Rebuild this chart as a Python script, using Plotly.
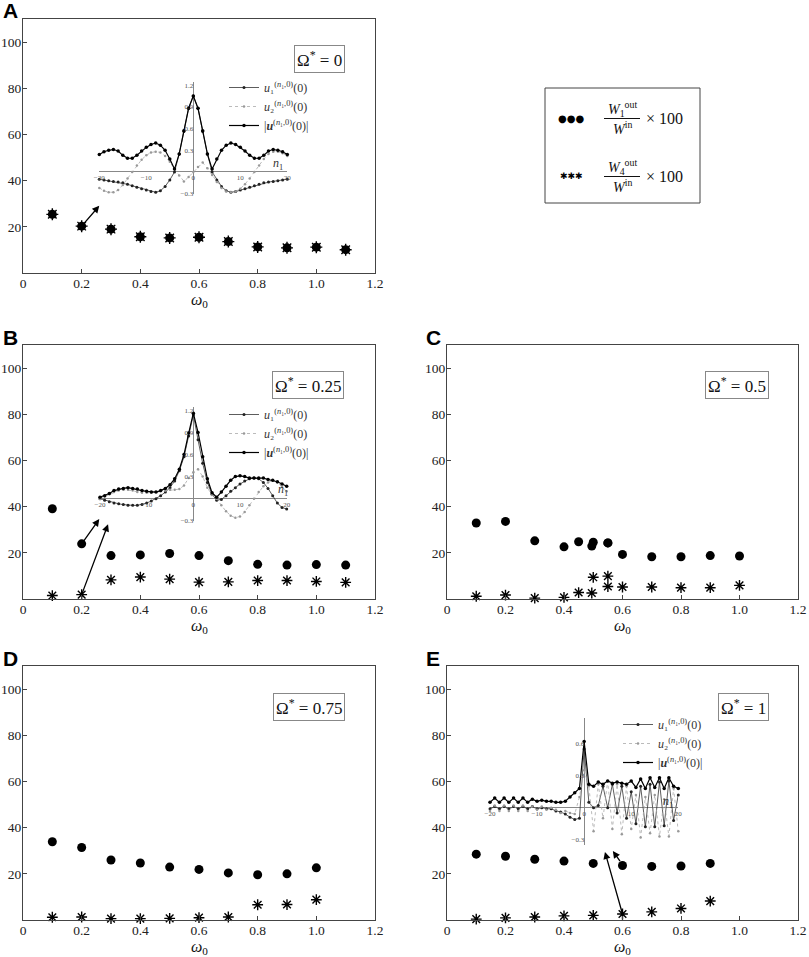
import plotly.graph_objects as go

W, H = 809, 957

# ---- main panels: energy ratio (%) vs omega_0 ----
omega_a = [0.1, 0.2, 0.3, 0.4, 0.5, 0.6, 0.7, 0.8, 0.9, 1.0, 1.1]
w1_a = [25.4, 20.3, 19.0, 15.7, 15.2, 15.5, 13.6, 11.3, 10.9, 11.2, 10.1]
w4_a = [25.4, 20.3, 19.0, 15.7, 15.2, 15.5, 13.6, 11.3, 10.9, 11.2, 10.1]

omega_b = [0.1, 0.2, 0.3, 0.4, 0.5, 0.6, 0.7, 0.8, 0.9, 1.0, 1.1]
w1_b = [39.1, 23.9, 18.8, 19.1, 19.7, 18.8, 16.6, 15.0, 14.7, 14.9, 14.7]
w4_b = [1.5, 1.9, 8.3, 9.5, 8.6, 7.3, 7.4, 8.0, 8.0, 7.6, 7.2]

omega_c = [0.1, 0.2, 0.3, 0.4, 0.45, 0.495, 0.5, 0.55, 0.55, 0.6, 0.7, 0.8, 0.9, 1.0]
w1_c = [32.9, 33.6, 25.2, 22.6, 24.8, 22.9, 24.6, 24.3, 24.3, 19.3, 18.3, 18.3, 18.8, 18.6]
w4_c = [1.2, 1.7, 0.4, 0.7, 2.8, 2.6, 9.4, 9.9, 5.4, 5.2, 5.2, 4.9, 4.9, 5.9]

omega_d = [0.1, 0.2, 0.3, 0.4, 0.5, 0.6, 0.7, 0.8, 0.9, 1.0]
w1_d = [33.9, 31.4, 26.0, 24.7, 22.9, 21.9, 20.4, 19.6, 20.0, 22.6]
w4_d = [1.2, 1.3, 0.6, 0.6, 0.7, 1.0, 1.3, 6.6, 6.7, 8.8]

omega_e = [0.1, 0.2, 0.3, 0.4, 0.5, 0.6, 0.7, 0.8, 0.9]
w1_e = [28.5, 27.6, 26.3, 25.5, 24.5, 23.6, 23.2, 23.4, 24.5]
w4_e = [0.4, 0.9, 1.3, 1.8, 2.0, 2.6, 3.5, 5.0, 8.2]

omega_star = ["0", "0.25", "0.5", "0.75", "1"]
letters = ["A", "B", "C", "D", "E"]

x_ticks = [0, 0.2, 0.4, 0.6, 0.8, 1.0, 1.2]
x_ticktext = ["0", "0.2", "0.4", "0.6", "0.8", "1.0", "1.2"]
y_ticks = [20, 40, 60, 80, 100]

# arrows (tail x, tail y, head x, head y) per panel
arrows_a = [(0.2, 20.3, 0.26, 29.1)]
arrows_b = [(0.2, 23.9, 0.26, 34.6), (0.2, 1.9, 0.29, 32.4)]
arrows_e = [(0.6, 2.6, 0.54, 29.5), (0.595, 24.8, 0.567, 29.9)]

# ---- insets: displacement profile along n1 ----
n1 = list(range(-20, 21))
inset_ticks_x = [-20, -10, 0, 10, 20]
inset_ticktext_x = ["\u221220", "\u221210", "0", "10", "20"]

u1_a = [-0.10, -0.11, -0.12, -0.13, -0.14, -0.15, -0.17, -0.19, -0.21, -0.23, -0.25,
        -0.27, -0.28, -0.26, -0.20, -0.11, 0.00, 0.25, 0.56, 0.88, 1.05,
        0.88, 0.56, 0.25, 0.00, -0.11, -0.20, -0.26, -0.28, -0.27, -0.25,
        -0.23, -0.21, -0.19, -0.17, -0.15, -0.14, -0.13, -0.12, -0.11, -0.10]
u2_a = [-0.22, -0.26, -0.28, -0.28, -0.25, -0.18, -0.09, 0.00, 0.09, 0.17, 0.23,
        0.27, 0.28, 0.27, 0.22, 0.14, 0.04, -0.05, -0.13, -0.07, 0.00,
        0.07, 0.13, 0.05, -0.04, -0.14, -0.22, -0.27, -0.28, -0.27, -0.23,
        -0.17, -0.09, 0.00, 0.09, 0.18, 0.25, 0.28, 0.28, 0.26, 0.22]
um_a = [0.24, 0.28, 0.30, 0.31, 0.29, 0.23, 0.19, 0.19, 0.23, 0.29, 0.34,
        0.38, 0.40, 0.37, 0.30, 0.18, 0.04, 0.25, 0.57, 0.88, 1.05,
        0.88, 0.57, 0.25, 0.04, 0.18, 0.30, 0.37, 0.40, 0.38, 0.34,
        0.29, 0.23, 0.19, 0.19, 0.23, 0.29, 0.31, 0.30, 0.28, 0.24]

u1_b = [0.00, -0.02, -0.04, -0.06, -0.07, -0.08, -0.09, -0.09, -0.09, -0.08, -0.06,
        -0.03, 0.00, 0.04, 0.09, 0.15, 0.24, 0.38, 0.57, 0.85, 1.14,
        0.80, 0.48, 0.22, 0.06, -0.02, -0.01, 0.04, 0.10, 0.15, 0.20,
        0.24, 0.27, 0.28, 0.27, 0.22, 0.14, 0.04, -0.06, -0.12, -0.14]
u2_b = [0.00, 0.03, 0.06, 0.09, 0.11, 0.12, 0.12, 0.11, 0.09, 0.08, 0.08,
        0.08, 0.09, 0.10, 0.11, 0.12, 0.12, 0.13, 0.18, 0.28, 0.36,
        0.40, 0.30, 0.15, 0.05, 0.00, -0.09, -0.17, -0.23, -0.26, -0.24,
        -0.18, -0.09, 0.00, 0.09, 0.17, 0.22, 0.25, 0.22, 0.16, 0.10]
um_b = [0.02, 0.04, 0.07, 0.11, 0.13, 0.14, 0.15, 0.14, 0.13, 0.11, 0.10,
        0.09, 0.09, 0.11, 0.14, 0.19, 0.27, 0.40, 0.60, 0.89, 1.16,
        0.90, 0.57, 0.27, 0.08, 0.02, 0.09, 0.17, 0.25, 0.30, 0.31,
        0.30, 0.28, 0.28, 0.28, 0.28, 0.26, 0.25, 0.23, 0.20, 0.17]

u1_e = [-0.01, 0.01, -0.01, 0.01, -0.01, 0.01, -0.01, 0.01, -0.01, 0.01, -0.01,
        0.00, -0.01, -0.01, -0.03, -0.04, -0.06, -0.09, -0.11, -0.10, 0.55,
        0.05, 0.00, 0.02, 0.20, 0.00, 0.22, -0.05, 0.20, -0.10, 0.15,
        -0.15, 0.20, -0.18, 0.22, -0.18, 0.24, -0.17, 0.25, -0.12, 0.12]
u2_e = [-0.03, 0.02, -0.03, 0.02, -0.03, 0.02, -0.03, 0.02, -0.03, 0.01, -0.02,
        0.01, -0.02, 0.00, -0.02, -0.05, -0.03, -0.05, -0.06, 0.10, 0.35,
        0.20, -0.22, 0.22, -0.10, 0.25, -0.20, 0.22, -0.25, 0.20, -0.20,
        0.12, -0.28, 0.10, -0.24, 0.12, -0.27, 0.08, -0.27, 0.18, -0.22]
um_e = [0.05, 0.09, 0.05, 0.09, 0.05, 0.09, 0.05, 0.09, 0.05, 0.08, 0.06,
        0.07, 0.06, 0.06, 0.05, 0.05, 0.06, 0.10, 0.14, 0.18, 0.62,
        0.22, 0.20, 0.24, 0.22, 0.25, 0.23, 0.24, 0.23, 0.22, 0.25,
        0.19, 0.27, 0.18, 0.28, 0.19, 0.28, 0.18, 0.28, 0.20, 0.18]

SERIF = "Liberation Serif, Times New Roman, serif"
SANS = "Liberation Sans, Arial, sans-serif"
FRAME = "#444444"


def fx(p):
    return p / W


def fy(p):
    return 1 - p / H


fig = go.Figure()

# panel boxes in pixels: left, top, right, bottom
boxes = [(23, 19, 375, 273), (23, 345, 375, 599), (447, 345, 798, 599),
         (23, 666, 375, 920), (447, 666, 798, 920)]
omega_box = [(0.915, 0.898), (0.912, 0.898), (0.917, 0.898), (0.915, 0.894), (0.917, 0.894)]
letter_pos = [(1, 11), (1, 337), (424, 337), (1, 658), (424, 658)]
data = [(omega_a, w1_a, w4_a), (omega_b, w1_b, w4_b), (omega_c, w1_c, w4_c),
        (omega_d, w1_d, w4_d), (omega_e, w1_e, w4_e)]
arrows = [arrows_a, arrows_b, [], [], arrows_e]

annotations = []
shapes = []

for i, (box, (om, w1, w4)) in enumerate(zip(boxes, data)):
    k = i + 1
    sx = "" if k == 1 else str(k)
    l, t, r, b = box
    axis_common = dict(showline=True, mirror=True, linecolor=FRAME, linewidth=1,
                       ticks="inside", ticklen=4, tickcolor=FRAME, showgrid=False,
                       zeroline=False, ticklabelstandoff=-2,
                       tickfont=dict(family=SERIF, size=13.5, color="#222"))
    fig.layout["xaxis" + sx] = dict(domain=[fx(l), fx(r)], range=[0, 1.2], anchor="y" + sx,
                                    tickvals=x_ticks, ticktext=x_ticktext, **axis_common)
    fig.layout["yaxis" + sx] = dict(domain=[fy(b), fy(t)], range=[0, 110], anchor="x" + sx,
                                    tickvals=y_ticks, **axis_common)
    fig.add_trace(go.Scatter(x=om, y=w1, mode="markers", xaxis="x" + sx, yaxis="y" + sx,
                             marker=dict(symbol="circle", size=9, color="black"),
                             showlegend=False, cliponaxis=False))
    fig.add_trace(go.Scatter(x=om, y=w4, mode="markers", xaxis="x" + sx, yaxis="y" + sx,
                             marker=dict(symbol="asterisk-open", size=10 if k == 1 else 9,
                                         color="black", line=dict(width=1.4, color="black")),
                             showlegend=False, cliponaxis=False))
    rx, ty = omega_box[i]
    annotations.append(dict(text="\u03a9<sup>*</sup> = " + omega_star[i],
                            xref="x" + sx + " domain", yref="y" + sx + " domain",
                            x=rx, y=ty, xanchor="right", yanchor="top", showarrow=False,
                            font=dict(family=SERIF, size=17, color="#111"),
                            bordercolor="#888", borderwidth=1, borderpad=2, bgcolor="white"))
    lx, ly = letter_pos[i]
    annotations.append(dict(text="<b>" + letters[i] + "</b>", xref="paper", yref="paper",
                            x=fx(lx), y=fy(ly), xanchor="left", yanchor="middle",
                            showarrow=False, font=dict(family=SANS, size=21, color="black")))
    annotations.append(dict(text="<i>\u03c9</i><sub>0</sub>", xref="paper", yref="paper",
                            x=fx((l + r) / 2), y=fy(b + 27.5), xanchor="center", yanchor="middle",
                            showarrow=False, font=dict(family=SERIF, size=16, color="#111")))
    for (tx, tyy, hx, hy) in arrows[i]:
        annotations.append(dict(x=hx, y=hy, ax=tx, ay=tyy, xref="x" + sx, yref="y" + sx,
                                axref="x" + sx, ayref="y" + sx, text="", showarrow=True,
                                arrowhead=2, arrowsize=1.1, arrowwidth=1.3, arrowcolor="black"))

# ---- insets ----
insets = [
    dict(k=6, data=(u1_a, u2_a, um_a), box=(99.3, 81.5, 287.3, 193.7), yr=[-0.3, 1.25],
         ytv=[-0.3, 0.3, 0.6, 0.9, 1.2], leg=(224, 73), nlab=(18.0, 0.11)),
    dict(k=7, data=(u1_b, u2_b, um_b), box=(100, 406.6, 286.7, 520.8), yr=[-0.3, 1.25],
         ytv=[-0.3, 0.3, 0.6, 0.9, 1.2], leg=(224, 400), nlab=(19.2, 0.12)),
    dict(k=8, data=(u1_e, u2_e, um_e), box=(490, 718.1, 678.3, 845), yr=[-0.35, 0.84],
         ytv=[-0.3, 0.3, 0.6], leg=(618, 710), nlab=(17.8, 0.05)),
]
labels = ["<i>u</i>\u2081<sup>(<i>n</i>\u2081,0)</sup>(0)",
          "<i>u</i>\u2082<sup>(<i>n</i>\u2081,0)</sup>(0)",
          "|<b><i>u</i></b><sup>(<i>n</i>\u2081,0)</sup>(0)|"]

for j, ins in enumerate(insets):
    k = str(ins["k"])
    l, t, r, b = ins["box"]
    yr = ins["yr"]
    y_zero = fy(b) + (0 - yr[0]) / (yr[1] - yr[0]) * (fy(t) - fy(b))
    x_zero = (fx(l) + fx(r)) / 2
    tf = dict(family=SERIF, size=7, color="#555")
    fig.layout["xaxis" + k] = dict(domain=[fx(l), fx(r)], range=[-20, 20], anchor="free",
                                   position=y_zero, showline=False, showgrid=False,
                                   zeroline=True, zerolinecolor="#888", zerolinewidth=1,
                                   tickvals=inset_ticks_x, ticktext=inset_ticktext_x,
                                   ticks="", tickfont=tf)
    fig.layout["yaxis" + k] = dict(domain=[fy(b), fy(t)], range=yr, anchor="free",
                                   position=x_zero, showline=False, showgrid=False,
                                   zeroline=True, zerolinecolor="#888", zerolinewidth=1,
                                   tickvals=ins["ytv"],
                                   ticktext=[("\u2212" + str(-v)) if v < 0 else str(v) for v in ins["ytv"]],
                                   ticks="", tickfont=tf)
    leg = "legend" + str(j + 2)
    u1, u2, um = ins["data"]
    styles = [
        dict(line=dict(color="#333", width=0.8), marker=dict(size=3, color="#222")),
        dict(line=dict(color="#aaa", width=0.8, dash="dot"), marker=dict(size=2.5, color="#999")),
        dict(line=dict(color="black", width=1.2), marker=dict(size=3.5, color="black")),
    ]
    for ys, st, lab in zip((u1, u2, um), styles, labels):
        fig.add_trace(go.Scatter(x=n1, y=ys, mode="lines+markers", xaxis="x" + k, yaxis="y" + k,
                                 name=lab, legend=leg, cliponaxis=False, **st))
    lx, ly = ins["leg"]
    fig.layout[leg] = dict(x=fx(lx), y=fy(ly), xanchor="left", yanchor="top",
                           bgcolor="rgba(0,0,0,0)", itemwidth=30, tracegroupgap=0,
                           font=dict(family=SERIF, size=12, color="#333"))
    nx, ny = ins["nlab"]
    annotations.append(dict(text="<i>n</i><sub>1</sub>", xref="x" + k, yref="y" + k,
                            x=nx, y=ny, showarrow=False, xanchor="center", yanchor="middle",
                            font=dict(family=SERIF, size=12, color="#333")))

# ---- main legend box ----
shapes.append(dict(type="rect", xref="paper", yref="paper", x0=fx(545), x1=fx(700),
                   y0=fy(203), y1=fy(88), line=dict(color=FRAME, width=1)))
legend_rows = [("\u25cf\u25cf\u25cf", "1", 118), ("\u2731\u2731\u2731", "4", 176)]
for sym, idx, yc in legend_rows:
    annotations.append(dict(text=sym, xref="paper", yref="paper", x=fx(571), y=fy(yc),
                            xanchor="center", yanchor="middle", showarrow=False,
                            font=dict(family="DejaVu Sans", size=10 if idx == "1" else 9,
                                      color="black")))
    annotations.append(dict(text="<i>W</i><sub>" + idx + "</sub><sup>out</sup>", xref="paper",
                            yref="paper", x=fx(622), y=fy(yc - 9), xanchor="center",
                            yanchor="middle", showarrow=False,
                            font=dict(family=SERIF, size=14, color="#111")))
    annotations.append(dict(text="<i>W</i><sup>in</sup>", xref="paper", yref="paper",
                            x=fx(622), y=fy(yc + 10), xanchor="center", yanchor="middle",
                            showarrow=False, font=dict(family=SERIF, size=14, color="#111")))
    annotations.append(dict(text="\u00d7 100", xref="paper", yref="paper", x=fx(644), y=fy(yc),
                            xanchor="left", yanchor="middle", showarrow=False,
                            font=dict(family=SERIF, size=16, color="#111")))
    shapes.append(dict(type="line", xref="paper", yref="paper", x0=fx(604), x1=fx(640),
                       y0=fy(yc + 0.5), y1=fy(yc + 0.5), line=dict(color="#111", width=1)))

fig.update_layout(width=W, height=H, margin=dict(l=0, r=0, t=0, b=0),
                  paper_bgcolor="white", plot_bgcolor="white", template="none",
                  annotations=annotations, shapes=shapes)

fig.write_html("out.html", config={"displayModeBar": False},
               post_script="document.body.style.margin = '0px';")
